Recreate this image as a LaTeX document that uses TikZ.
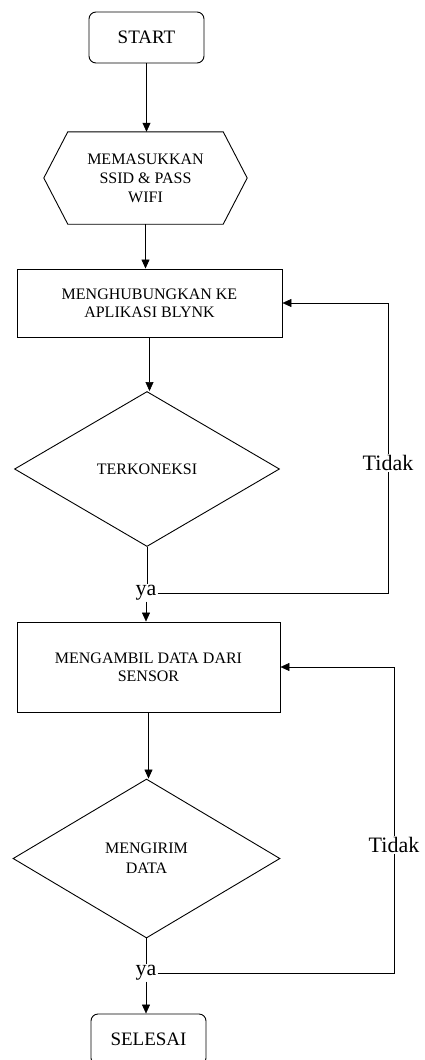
\documentclass[tikz,border=0pt]{standalone}
\usepackage{fontspec}
\setmainfont{Liberation Serif}
\usetikzlibrary{shapes.geometric,arrows.meta}

\begin{document}
\begin{tikzpicture}[x=1pt, y=-1pt,
    terminal/.style={draw, line width=0.9pt, rounded corners=7pt,
                  minimum width=115pt, minimum height=51pt,
                  font=\fontsize{19}{21}\selectfont},
    block/.style={draw, line width=0.9pt, align=center, inner sep=0pt,
                  font=\fontsize{16}{18}\selectfont},
    decision/.style={diamond, draw, line width=0.9pt, align=center, inner sep=0pt,
                  font=\fontsize{16}{20}\selectfont},
    iobox/.style={align=center, inner sep=0pt, minimum width=155pt,
                  minimum height=92pt, font=\fontsize{16}{19}\selectfont},
    answer/.style={inner sep=1pt, font=\fontsize{22}{24}\selectfont},
    flow/.style={-{Triangle[length=9pt,width=8pt]}, line width=0.6pt},
    link/.style={line width=0.6pt},
]
\useasboundingbox (0,0) rectangle (425,1060);

% === Nodes ===
\node[terminal] (start) at (146.5,37.5) {START};

\node[iobox] (input) at (145.5,178) {MEMASUKKAN\\SSID \& PASS\\WIFI};
\draw[line width=0.9pt] (input.north west) -- (input.north east)
  -- ([xshift=24pt]input.east) -- (input.south east)
  -- (input.south west) -- ([xshift=-24pt]input.west) -- cycle;

\node[block, minimum width=265pt, minimum height=68pt] (connect) at (149.5,303)
  {MENGHUBUNGKAN KE\\APLIKASI BLYNK};

\node[decision, minimum width=265pt, minimum height=155pt] (check1) at (147,469)
  {TERKONEKSI};

\node[answer] (ya1) at (146,593) {ya};
\node[answer] (tidak1) at (388,463) {Tidak};

\node[block, minimum width=263pt, minimum height=90pt] (data) at (148.5,667)
  {MENGAMBIL DATA DARI\\SENSOR};

\node[decision, minimum width=267pt, minimum height=159pt] (check2) at (146.5,858.5)
  {MENGIRIM\\DATA};

\node[answer] (ya2) at (146,973) {ya};
\node[answer] (tidak2) at (394,845) {Tidak};

\node[terminal] (stop) at (148.5,1039.5) {SELESAI};

% === Connectors ===
\draw[flow] (start.south) -- (start.south |- input.north);
\draw[flow] (input.south) -- (input.south |- connect.north);
\draw[flow] (connect.south) -- (connect.south |- check1.north);
\draw[link] (check1.south) -- (check1.south |- ya1.north);
\draw[flow] (ya1.south) -- (ya1.south |- data.north);
\draw[link] (ya1.east) -| (tidak1.south);
\draw[flow] (tidak1.north) |- (connect.east);

\draw[flow] (data.south) -- (data.south |- check2.north);
\draw[link] (check2.south) -- (check2.south |- ya2.north);
\draw[flow] (ya2.south) -- (ya2.south |- stop.north);
\draw[link] (ya2.east) -| (tidak2.south);
\draw[flow] (tidak2.north) |- (data.east);
\end{tikzpicture}
\end{document}
